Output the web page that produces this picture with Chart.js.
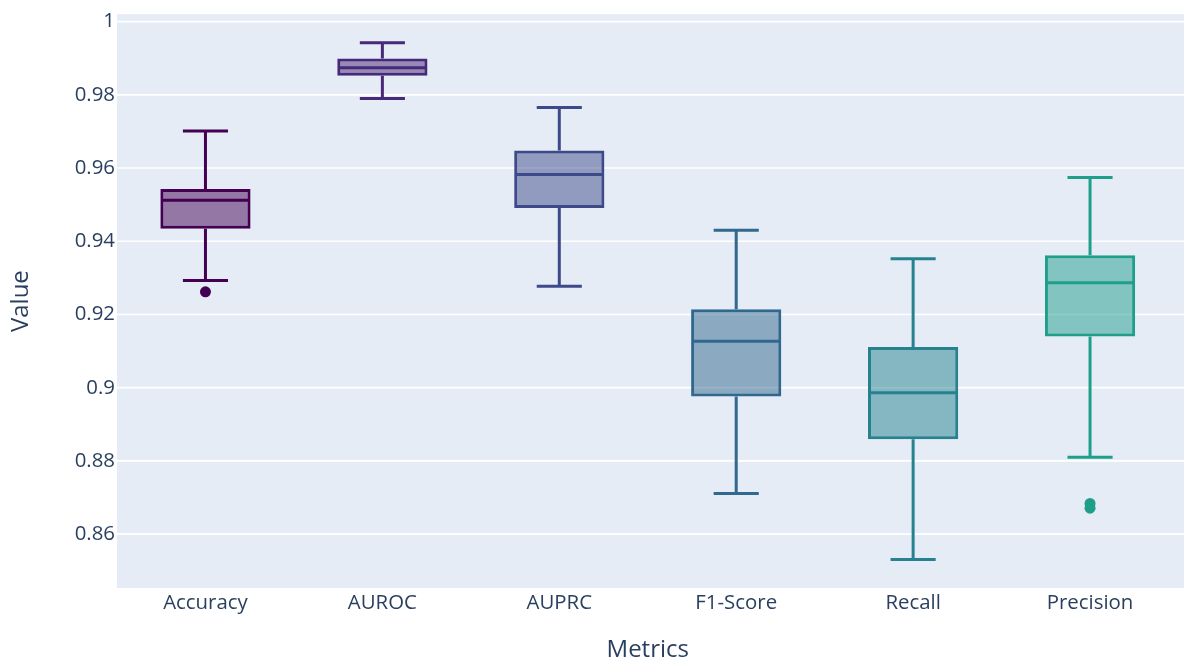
<!DOCTYPE html>
<html>
<head>
<meta charset="utf-8">
<script src="https://cdn.jsdelivr.net/npm/chart.js@4.4.1/dist/chart.umd.min.js"></script>
<style>
  html, body { margin: 0; padding: 0; background: #ffffff; overflow: hidden; }
  #boxChart { display: block; width: 1184px; height: 663px; }
</style>
</head>
<body>
<canvas id="boxChart" width="1184" height="663"></canvas>
<script>
// Dati (statistiche dei box per metrica)
const categories = ['Accuracy', 'AUROC', 'AUPRC', 'F1-Score', 'Recall', 'Precision'];
const minVals    = [0.9293, 0.9790, 0.9277, 0.8711, 0.8531, 0.8810];
const q1Vals     = [0.9434, 0.9852, 0.9491, 0.8976, 0.8859, 0.9140];
const medianVals = [0.9512, 0.9874, 0.9582, 0.9127, 0.8986, 0.9287];
const q3Vals     = [0.9543, 0.9899, 0.9648, 0.9214, 0.9111, 0.9362];
const maxVals    = [0.9701, 0.9942, 0.9765, 0.9430, 0.9352, 0.9574];
const outlierCats = ['Accuracy', 'Precision', 'Precision'];
const outlierVals = [0.9262, 0.8684, 0.8671];
const yTicks = [0.86, 0.88, 0.9, 0.92, 0.94, 0.96, 0.98, 1];

// Palette viridis (come plotly)
const colors = ['#440154', '#482878', '#3e4989', '#31688e', '#26828e', '#1f9e89'];
const fills  = colors.map(c => c + '80');

const TICK_COLOR = '#2a3f5f';
const FONT = '"Open Sans", verdana, arial, sans-serif';
const LINE_W = 3;

// Sfondo + griglia orizzontale fino al bordo destro del canvas
const plotBg = {
    id: 'plotBg',
    beforeDatasetsDraw(chart) {
        const { ctx, chartArea: a } = chart;
        const yScale = chart.scales.y;
        const right = chart.width;
        ctx.save();
        ctx.fillStyle = '#e5ecf6';
        ctx.fillRect(a.left, a.top, right - a.left, a.bottom - a.top);
        ctx.strokeStyle = '#ffffff';
        ctx.lineWidth = 1.7;
        ctx.beginPath();
        for (const v of yTicks) {
            const y = yScale.getPixelForValue(v);
            ctx.moveTo(a.left, y);
            ctx.lineTo(right, y);
        }
        ctx.stroke();
        ctx.restore();
    }
};

// Baffi e mediana: disegnati con le scale della libreria
const whiskers = {
    id: 'whiskers',
    afterDatasetsDraw(chart) {
        const { ctx } = chart;
        const yScale = chart.scales.y;
        const meta = chart.getDatasetMeta(0);
        ctx.save();
        ctx.lineWidth = LINE_W;
        ctx.lineCap = 'butt';
        for (let i = 0; i < categories.length; i++) {
            const bar = meta.data[i];
            const { x, width } = bar.getProps(['x', 'width'], true);
            const half = width / 2 - LINE_W / 2;
            const cap = width / 4;
            const yMin = yScale.getPixelForValue(minVals[i]);
            const yQ1  = yScale.getPixelForValue(q1Vals[i]);
            const yMed = yScale.getPixelForValue(medianVals[i]);
            const yQ3  = yScale.getPixelForValue(q3Vals[i]);
            const yMax = yScale.getPixelForValue(maxVals[i]);
            ctx.strokeStyle = colors[i];
            ctx.beginPath();
            // baffo superiore
            ctx.moveTo(x, yQ3); ctx.lineTo(x, yMax);
            ctx.moveTo(x - cap, yMax); ctx.lineTo(x + cap, yMax);
            // baffo inferiore
            ctx.moveTo(x, yQ1); ctx.lineTo(x, yMin);
            ctx.moveTo(x - cap, yMin); ctx.lineTo(x + cap, yMin);
            // mediana
            ctx.moveTo(x - half, yMed); ctx.lineTo(x + half, yMed);
            ctx.stroke();
        }
        ctx.restore();
    }
};

const ctx = document.getElementById('boxChart').getContext('2d');
new Chart(ctx, {
    type: 'bar',
    data: {
        labels: categories,
        datasets: [{
            label: 'box',
            data: categories.map((c, i) => [q1Vals[i], q3Vals[i]]),
            backgroundColor: fills,
            borderColor: colors,
            borderWidth: LINE_W,
            borderSkipped: false,
            categoryPercentage: 1,
            barPercentage: 0.51
        }, {
            type: 'line',
            label: 'outliers',
            data: outlierCats.map((c, i) => ({ x: c, y: outlierVals[i] })),
            showLine: false,
            pointRadius: 5.5,
            pointBorderWidth: 0,
            pointBackgroundColor: (c) => colors[categories.indexOf(outlierCats[c.dataIndex])]
        }]
    },
    options: {
        responsive: false,
        animation: false,
        devicePixelRatio: 1,
        layout: { padding: { top: 12, right: 0, bottom: 0, left: 0 } },
        plugins: {
            legend: { display: false },
            tooltip: { enabled: false }
        },
        scales: {
            x: {
                type: 'category',
                grid: { display: false, drawTicks: false },
                border: { display: false },
                ticks: { color: TICK_COLOR, font: { family: FONT, size: 20.4 }, padding: 3, maxRotation: 0 },
                title: { display: true, text: 'Metrics', color: TICK_COLOR, font: { family: FONT, size: 24 }, padding: { top: 0, bottom: -2 } },
                afterFit(scale) {
                    scale.height = 75;
                    scale.paddingLeft = 0;
                    scale.paddingRight = 0;
                }
            },
            y: {
                min: 0.8453,
                max: 1.0020,
                grid: { display: false, drawTicks: false },
                border: { display: false },
                afterBuildTicks(scale) { scale.ticks = yTicks.map(v => ({ value: v })); },
                ticks: {
                    color: TICK_COLOR,
                    font: { family: FONT, size: 20.4 },
                    padding: 2,
                    callback: (v) => String(+Number(v).toFixed(2))
                },
                title: { display: true, text: 'Value', color: TICK_COLOR, font: { family: FONT, size: 24 }, padding: { top: 7, bottom: 0 } },
                afterFit(scale) { scale.width = 117; }
            }
        }
    },
    plugins: [plotBg, whiskers]
});
</script>
</body>
</html>
